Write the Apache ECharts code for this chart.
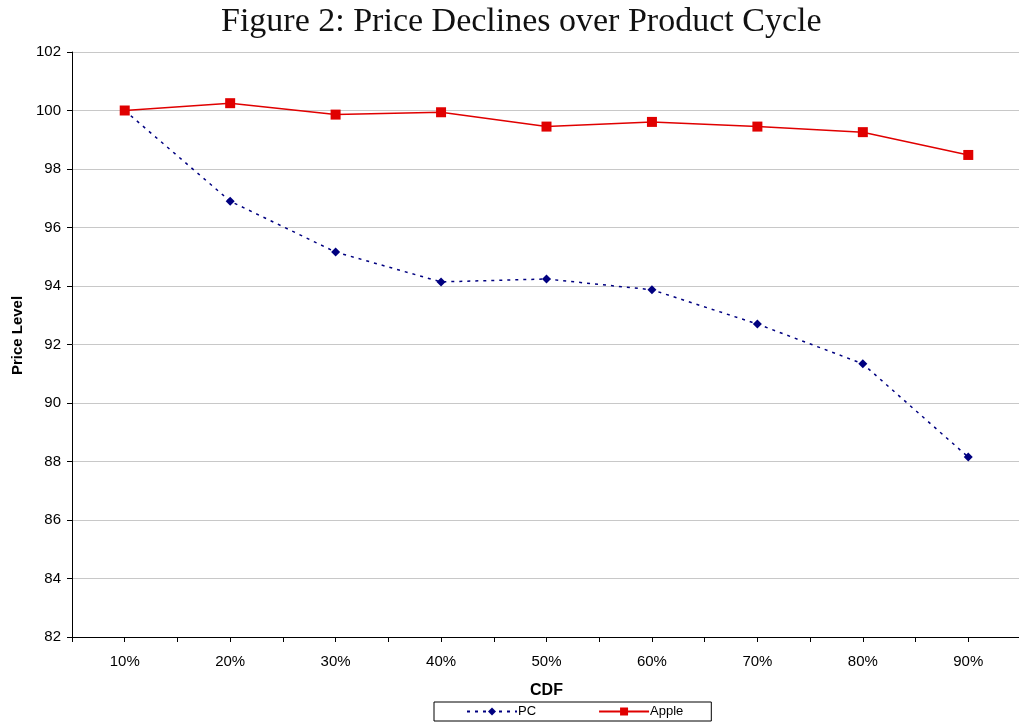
<!DOCTYPE html>
<html>
<head>
<meta charset="utf-8">
<script src="https://cdn.jsdelivr.net/npm/echarts@6/dist/echarts.min.js"></script>
<style>
  html, body { margin: 0; padding: 0; background: #fff; }
  #chart { width: 1019px; height: 724px; }
</style>
</head>
<body>
<div id="chart"></div>
<script>
// 横轴类目
const categories = ['10%', '20%', '30%', '40%', '50%', '60%', '70%', '80%', '90%'];
// 价格水平
const pcValues = [100.0, 96.9, 95.16, 94.14, 94.24, 93.87, 92.7, 91.34, 88.15];
const appleValues = [100.0, 100.25, 99.86, 99.94, 99.45, 99.61, 99.45, 99.26, 98.48];
// 半格刻度用的隐藏类目
const halfCategories = categories.flatMap((c) => [c + 'a', c + 'b']);

const myChart = echarts.init(document.getElementById('chart'));

const axisText = { color: '#000', fontFamily: 'Liberation Sans, Arial, sans-serif', fontSize: 15 };

myChart.setOption({
  animation: false,
  title: {
    text: 'Figure 2: Price Declines over Product Cycle',
    left: 216,
    top: 0,
    textStyle: {
      fontFamily: 'Liberation Serif, DejaVu Serif, serif',
      fontWeight: 'normal',
      fontSize: 34,
      color: '#111',
    },
  },
  grid: {
    left: 72,
    right: -2,
    top: 52,
    bottom: 87,
    outerBoundsMode: 'none',
  },
  legend: {
    left: 434,
    top: 702,
    padding: [3, 28, 3, 32],
    itemGap: 62,
    itemWidth: 50,
    itemHeight: 10,
    borderColor: '#000',
    borderWidth: 1,
    borderRadius: 0,
    textStyle: { color: '#000', fontFamily: 'Liberation Sans, Arial, sans-serif', fontSize: 13, padding: [0, 0, 0, -4] },
    data: ['PC', 'Apple'],
  },
  xAxis: [
    {
      type: 'category',
      data: categories,
      name: 'CDF',
      nameLocation: 'middle',
      nameGap: 46,
      nameTextStyle: { ...axisText, fontWeight: 'bold', fontSize: 16 },
      axisLine: { lineStyle: { color: '#000', width: 1 } },
      axisTick: { show: true, length: 5, lineStyle: { color: '#000' } },
      axisLabel: { ...axisText, margin: 17 },
      splitLine: { show: false },
    },
    {
      // 只用来画类目中间的刻度
      type: 'category',
      data: halfCategories,
      position: 'bottom',
      axisLine: { show: false },
      axisTick: { show: true, length: 5, lineStyle: { color: '#000' } },
      axisLabel: { show: false },
      splitLine: { show: false },
    },
  ],
  yAxis: {
    type: 'value',
    min: 82,
    max: 102,
    interval: 2,
    name: 'Price Level',
    nameLocation: 'middle',
    nameGap: 47,
    nameTextStyle: { ...axisText, fontWeight: 'bold', fontSize: 15, padding: [0, 0, 0, 18] },
    axisLine: { show: true, lineStyle: { color: '#000', width: 1 } },
    axisTick: { show: true, length: 5, lineStyle: { color: '#000' } },
    axisLabel: { ...axisText, margin: 11 },
    splitLine: { lineStyle: { color: '#c8c8c8', width: 1 } },
  },
  series: [
    {
      name: 'PC',
      type: 'line',
      data: pcValues,
      symbol: 'diamond',
      symbolSize: 9,
      itemStyle: { color: '#000080' },
      lineStyle: { color: '#000080', width: 1.5, type: [3, 5] },
    },
    {
      name: 'Apple',
      type: 'line',
      data: appleValues,
      symbol: 'rect',
      symbolSize: 10,
      itemStyle: { color: '#e00000' },
      lineStyle: { color: '#e00000', width: 1.5 },
    },
  ],
});
</script>
</body>
</html>
